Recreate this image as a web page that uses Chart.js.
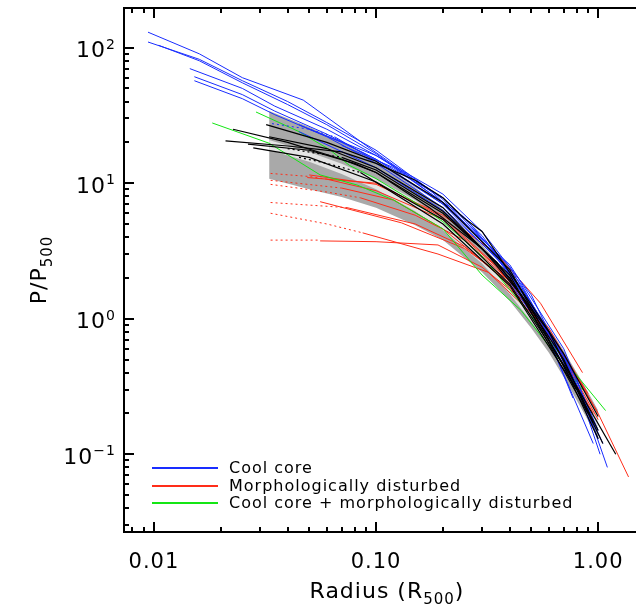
<!DOCTYPE html>
<html>
<head>
<meta charset="utf-8">
<script src="https://cdn.jsdelivr.net/npm/chart.js@4.4.1/dist/chart.umd.min.js"></script>
<style>
  html, body { margin: 0; padding: 0; background: #fff; }
  canvas { display: block; }
</style>
</head>
<body>
<canvas id="chart" width="636" height="607"></canvas>
<script>
// Pressure profiles, [radius in R500, P/P500]
const coolCoreProfiles = [
    [[0.0094,130],[0.016,90],[0.025,60],[0.047,41],[0.09,19],[0.18,8.5],[0.34,3.2],[0.46,1.5],[0.6,0.75],[0.72,0.4]],
    [[0.0094,110],[0.016,82],[0.025,57],[0.04,40],[0.06,28],[0.1,17.5],[0.2,7.6],[0.4,2.2],[0.7,0.52],[1.05,0.12]],
    [[0.0105,104],[0.016,80],[0.025,55],[0.04,38],[0.06,27],[0.1,16.5],[0.2,7.2],[0.35,2.9],[0.6,0.8],[0.86,0.24]],
    [[0.0145,70],[0.025,50],[0.035,37],[0.06,25],[0.1,16],[0.2,7.8],[0.4,2.4],[0.8,0.36],[1.1,0.08]],
    [[0.0152,61],[0.025,45],[0.035,34],[0.06,23],[0.1,15],[0.2,7.0],[0.4,2.2],[0.75,0.45],[1.0,0.15]],
    [[0.0152,57],[0.025,42],[0.035,32],[0.06,22],[0.1,14],[0.2,6.6],[0.35,2.8],[0.55,1.0],[0.77,0.26]],
    [[0.065,22],[0.1,14.5],[0.2,7.0],[0.4,2.5],[0.7,0.6],[0.92,0.2]],
    [[0.045,27],[0.07,20],[0.1,15],[0.2,7.8],[0.3,4.1],[0.45,1.7],[0.7,0.55],[1.0,0.13]],
    [[0.05,25],[0.1,16],[0.2,8.3],[0.3,4.4],[0.5,1.5],[0.9,0.2]],
    [[0.045,24],[0.1,13],[0.2,6.3],[0.35,2.6],[0.6,0.7],[0.95,0.12]],
    [[0.07,19],[0.12,13],[0.25,5.6],[0.45,1.8],[0.8,0.33],[1.02,0.1]]
];
const coolCoreInner = [
    [[0.034,27.5],[0.05,25],[0.065,22]]
];

const disturbedProfiles = [
    [[0.056,3.75],[0.1,3.7],[0.19,3.5],[0.3,2.4],[0.45,1.4],[0.6,0.75],[0.85,0.32]],
    [[0.087,4.3],[0.19,3.0],[0.32,2.2],[0.5,1.1],[0.75,0.45],[1.0,0.2]],
    [[0.074,6.6],[0.15,5.0],[0.25,3.4],[0.4,1.8],[0.6,0.8],[0.85,0.32]],
    [[0.085,7.8],[0.15,5.8],[0.25,3.8],[0.4,1.9],[0.6,0.8],[1.0,0.18]],
    [[0.06,10.7],[0.1,8.8],[0.2,5.4],[0.35,2.4],[0.6,0.85],[1.0,0.2],[1.37,0.068]],
    [[0.05,11.5],[0.1,9.8],[0.2,5.8],[0.35,3.0],[0.55,1.3],[0.85,0.4]],
    [[0.07,9.2],[0.12,7.5],[0.2,4.6],[0.35,2.2],[0.6,0.75],[0.95,0.2]],
    [[0.049,11],[0.1,10],[0.2,5.6],[0.4,2.0],[0.8,0.36]],
    [[0.056,7.3],[0.13,5.1],[0.25,3.3],[0.4,1.9],[0.7,0.55],[0.9,0.28]]
];
const disturbedInner = [
    [[0.0335,3.8],[0.056,3.8]],
    [[0.0335,6.0],[0.06,5.0],[0.087,4.3]],
    [[0.0335,7.2],[0.074,6.6]],
    [[0.0335,9.8],[0.06,8.6],[0.085,7.8]],
    [[0.0335,11.8],[0.05,11.2],[0.06,10.7]],
    [[0.0335,10.5],[0.07,9.2]]
];

const mixedProfiles = [
    [[0.0288,33.5],[0.045,24],[0.062,17.6],[0.076,13.5],[0.1,10.8],[0.15,7.2],[0.2,5.2],[0.3,2.9],[0.5,1.05],[0.7,0.5],[1.08,0.21]],
    [[0.0183,27.8],[0.033,19.7],[0.056,11.5],[0.082,9.7],[0.12,7.5],[0.2,4.6],[0.3,2.1],[0.45,1.15],[0.67,0.5],[0.85,0.3]]
];

const otherProfiles = [
    [[0.0227,25],[0.04,20],[0.07,15],[0.1,12],[0.174,6.6],[0.3,3.3],[0.45,1.5],[0.7,0.5],[0.95,0.17]],
    [[0.021,20.5],[0.04,18.8],[0.07,17],[0.1,14],[0.15,10.5],[0.2,7.8],[0.246,5.6],[0.3,4.4],[0.48,1.4],[0.7,0.55],[1.0,0.19]],
    [[0.0265,19.4],[0.05,17.5],[0.08,14],[0.1,12],[0.2,6.0],[0.35,2.6],[0.6,0.8],[1.0,0.15]],
    [[0.028,18.2],[0.05,15.5],[0.1,10.2],[0.2,5.4],[0.4,1.8],[0.7,0.45],[1.0,0.13]],
    [[0.032,27],[0.06,20],[0.1,14.5],[0.2,7.2],[0.4,2.3],[0.8,0.3]],
    [[0.033,22],[0.06,18],[0.1,13],[0.2,6.6],[0.4,2.0],[0.75,0.38],[1.2,0.1]],
    [[0.085,12],[0.2,5.0],[0.4,1.75],[0.8,0.3],[1.05,0.12]],
    [[0.07,15.5],[0.1,12.5],[0.2,6.2],[0.4,2.1],[0.9,0.2]]
];
const otherInner = [
    [[0.045,15.5],[0.06,14],[0.085,12]],
    [[0.04,18],[0.07,15.5]]
];

// Dispersion envelope and median band
const bandRadius = [0.033, 0.05, 0.07, 0.1, 0.15, 0.2, 0.3, 0.4, 0.5, 0.6, 0.7, 0.85, 1.0];
const bandLow    = [10.8, 9.0, 7.9, 6.6, 4.9, 3.8, 2.2, 1.35, 0.85, 0.56, 0.37, 0.21, 0.13];
const bandHigh   = [34, 26, 20, 14.5, 9.3, 6.4, 3.5, 2.05, 1.3, 0.86, 0.58, 0.34, 0.21];
const medianLow  = [17.6, 14.4, 11.7, 9.0, 6.2, 4.5, 2.55, 1.52, 0.95, 0.62, 0.41, 0.235, 0.14];
const medianHigh = [20.8, 17.0, 13.9, 10.8, 7.5, 5.4, 3.05, 1.85, 1.18, 0.79, 0.54, 0.32, 0.2];

const xTicks = [0.01, 0.1, 1];
const xTickLabels = ['0.01', '0.10', '1.00'];
const yTicks = [0.1, 1, 10, 100];
const yTickPowers = ['\u22121', '0', '1', '2'];

const legendLabels = ['Cool core', 'Morphologically disturbed', 'Cool core + morphologically disturbed'];
const BLUE = 'rgb(25,45,255)';
const RED = 'rgb(255,45,25)';
const GREEN = 'rgb(20,230,20)';
const BLACK = '#000';
const legendColors = [BLUE, RED, GREEN];

const FONT = '"DejaVu Sans", sans-serif';

function toPoints(profile) {
    return profile.map(p => ({ x: p[0], y: p[1] }));
}

function bandPoints(values) {
    return bandRadius.map((r, i) => ({ x: r, y: values[i] }));
}

function profileDataset(profile, color, dotted, width, order) {
    return {
        data: toPoints(profile),
        borderColor: color,
        borderWidth: width,
        borderDash: dotted ? [2, 3] : [],
        tension: 0,
        pointRadius: 0,
        fill: false,
        order: order
    };
}

function bandDataset(values, fillColor, order) {
    return {
        data: bandPoints(values),
        borderWidth: 0,
        pointRadius: 0,
        tension: 0,
        fill: fillColor ? '-1' : false,
        backgroundColor: fillColor || 'transparent',
        order: order
    };
}

const datasets = [];
// grey envelope, then light median band
datasets.push(bandDataset(bandLow, null, 10));
datasets.push(bandDataset(bandHigh, '#a9a9a9', 10));
datasets.push(bandDataset(medianLow, null, 9));
datasets.push(bandDataset(medianHigh, '#e4e4e4', 9));

disturbedProfiles.forEach(p => datasets.push(profileDataset(p, RED, false, 1, 4)));
disturbedInner.forEach(p => datasets.push(profileDataset(p, RED, true, 1, 4)));
mixedProfiles.forEach(p => datasets.push(profileDataset(p, GREEN, false, 1, 3)));
coolCoreProfiles.forEach(p => datasets.push(profileDataset(p, BLUE, false, 1, 2)));
coolCoreInner.forEach(p => datasets.push(profileDataset(p, BLUE, true, 1, 2)));
otherProfiles.forEach(p => datasets.push(profileDataset(p, BLACK, false, 1.2, 1)));
otherInner.forEach(p => datasets.push(profileDataset(p, BLACK, true, 1.2, 1)));

// Frame, inward ticks, labels, titles and legend
const axesPlugin = {
    id: 'idlAxes',
    afterDraw(chart) {
        const ctx = chart.ctx;
        const area = chart.chartArea;
        const xs = chart.scales.x;
        const ys = chart.scales.y;
        ctx.save();
        ctx.strokeStyle = '#000';
        ctx.fillStyle = '#000';
        ctx.lineWidth = 2;
        ctx.beginPath();
        ctx.moveTo(area.left, area.top);
        ctx.lineTo(area.left, area.bottom);
        ctx.moveTo(area.left - 1, area.bottom);
        ctx.lineTo(area.right, area.bottom);
        ctx.moveTo(area.left - 1, area.top);
        ctx.lineTo(area.right, area.top);
        ctx.stroke();

        // minor and major ticks
        ctx.beginPath();
        for (let n = -3; n <= 2; n++) {
            for (let k = 1; k <= 9; k++) {
                const v = k * Math.pow(10, n);
                const len = k === 1 ? 10 : 5;
                if (v >= xs.min && v <= xs.max) {
                    const px = Math.round(xs.getPixelForValue(v));
                    ctx.moveTo(px, area.bottom);
                    ctx.lineTo(px, area.bottom - len);
                    ctx.moveTo(px, area.top);
                    ctx.lineTo(px, area.top + len);
                }
                if (v >= ys.min && v <= ys.max) {
                    const py = Math.round(ys.getPixelForValue(v));
                    ctx.moveTo(area.left, py);
                    ctx.lineTo(area.left + len, py);
                }
            }
        }
        ctx.stroke();

        ctx.letterSpacing = '1px';

        // x tick labels
        ctx.font = '21px ' + FONT;
        ctx.textAlign = 'center';
        ctx.textBaseline = 'alphabetic';
        xTicks.forEach((v, i) => {
            ctx.fillText(xTickLabels[i], xs.getPixelForValue(v), area.bottom + 36);
        });

        // y tick labels 10^n
        ctx.textAlign = 'left';
        yTicks.forEach((v, i) => {
            const py = ys.getPixelForValue(v);
            ctx.font = '14px ' + FONT;
            const pw = ctx.measureText(yTickPowers[i]).width;
            const rightEdge = area.left - 8;
            ctx.fillText(yTickPowers[i], rightEdge - pw, py + 1);
            ctx.font = '22px ' + FONT;
            const bw = ctx.measureText('10').width;
            ctx.fillText('10', rightEdge - pw - bw, py + 9.5);
        });

        // x title
        const mainFont = '22px ' + FONT;
        const subFont = '15px ' + FONT;
        ctx.font = mainFont;
        const a = 'Radius (R';
        const wa = ctx.measureText(a).width;
        const wc = ctx.measureText(')').width;
        ctx.font = subFont;
        const wb = ctx.measureText('500').width;
        const x0 = 387 - (wa + wb + wc) / 2;
        const base = 598;
        ctx.font = mainFont;
        ctx.fillText(a, x0, base);
        ctx.font = subFont;
        ctx.fillText('500', x0 + wa, base + 6);
        ctx.font = mainFont;
        ctx.fillText(')', x0 + wa + wb, base);

        // y title, rotated
        ctx.save();
        ctx.translate(46, 270);
        ctx.rotate(-Math.PI / 2);
        ctx.font = mainFont;
        const ya = 'P/P';
        const wya = ctx.measureText(ya).width;
        ctx.font = subFont;
        const wyb = ctx.measureText('500').width;
        const y0 = -(wya + wyb) / 2;
        ctx.font = mainFont;
        ctx.fillText(ya, y0, 0);
        ctx.font = subFont;
        ctx.fillText('500', y0 + wya, 6);
        ctx.restore();

        // legend
        const legendY = [468, 486, 503];
        ctx.font = '16px ' + FONT;
        ctx.textBaseline = 'middle';
        legendLabels.forEach((label, i) => {
            ctx.strokeStyle = legendColors[i];
            ctx.lineWidth = 2;
            ctx.beginPath();
            ctx.moveTo(152, legendY[i]);
            ctx.lineTo(218, legendY[i]);
            ctx.stroke();
            ctx.fillStyle = '#000';
            ctx.fillText(label, 229, legendY[i] + 1);
        });
        ctx.restore();
    }
};

new Chart(document.getElementById('chart'), {
    type: 'line',
    data: { datasets: datasets },
    options: {
        responsive: false,
        animation: false,
        devicePixelRatio: 1,
        layout: { padding: { left: 124, top: 8, right: 0, bottom: 75 } },
        elements: { point: { radius: 0 } },
        plugins: {
            legend: { display: false },
            tooltip: { enabled: false }
        },
        scales: {
            x: { type: 'logarithmic', min: 0.00733, max: 1.48, display: false },
            y: { type: 'logarithmic', min: 0.0267, max: 196, display: false }
        }
    },
    plugins: [axesPlugin]
});
</script>
</body>
</html>
